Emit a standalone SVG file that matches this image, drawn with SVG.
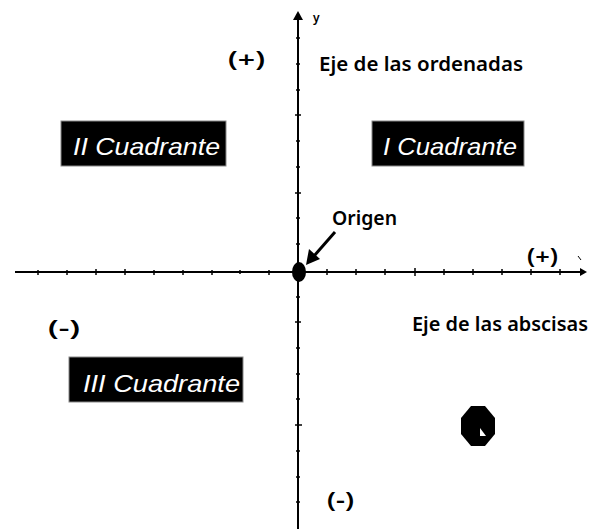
<svg xmlns="http://www.w3.org/2000/svg" width="604" height="529" viewBox="0 0 604 529">
<style>
.axis{stroke:#000;stroke-width:2;fill:none}
.tick{stroke:#000;stroke-width:1.5}
.lbl{font-family:"Noto Sans","Liberation Sans",sans-serif;font-weight:600;fill:#000}
.box{fill:#000;stroke:#888;stroke-width:1}
.qt{font-family:"Liberation Sans Narrow","Liberation Sans",sans-serif;font-style:italic;fill:#fff}
</style>
<rect width="604" height="529" fill="#fff"/>
<g id="connectors">
<line class="axis" x1="15" y1="272" x2="582" y2="272"/>
<path d="M580,268 L587,272 L580,276 Z" fill="#000"/>
<line class="axis" x1="298" y1="529" x2="298" y2="20"/>
<path d="M293,20 L298,11 L303,20 Z" fill="#000"/>
<g class="tick">
<line x1="38" y1="270" x2="38" y2="275"/><line x1="67" y1="270" x2="67" y2="275"/><line x1="96" y1="269" x2="96" y2="275"/><line x1="125" y1="269" x2="125" y2="275"/><line x1="154" y1="270" x2="154" y2="275"/><line x1="183" y1="270" x2="183" y2="275"/><line x1="212" y1="270" x2="212" y2="275"/><line x1="240" y1="270" x2="240" y2="274"/><line x1="269" y1="270" x2="269" y2="275"/>
<line x1="327" y1="269" x2="327" y2="275"/><line x1="356" y1="269" x2="356" y2="275"/><line x1="385" y1="269" x2="385" y2="275"/><line x1="415" y1="268" x2="415" y2="276"/><line x1="444" y1="269" x2="444" y2="275"/><line x1="473" y1="269" x2="473" y2="275"/><line x1="502" y1="269" x2="502" y2="275"/><line x1="531" y1="269" x2="531" y2="275"/><line x1="560" y1="269" x2="560" y2="275"/>
<line x1="296" y1="38" x2="300" y2="38"/><line x1="296" y1="64" x2="300" y2="64"/><line x1="296" y1="90" x2="300" y2="90"/><line x1="295" y1="115" x2="301" y2="115"/><line x1="296" y1="141" x2="300" y2="141"/><line x1="296" y1="167" x2="300" y2="167"/><line x1="295" y1="193" x2="301" y2="193"/><line x1="296" y1="218" x2="300" y2="218"/><line x1="296" y1="244" x2="300" y2="244"/>
<line x1="296" y1="297" x2="300" y2="297"/><line x1="295" y1="322" x2="301" y2="322"/><line x1="296" y1="348" x2="300" y2="348"/><line x1="296" y1="374" x2="300" y2="374"/><line x1="296" y1="399" x2="300" y2="399"/><line x1="295" y1="425" x2="302" y2="425"/><line x1="296" y1="451" x2="300" y2="451"/><line x1="296" y1="477" x2="300" y2="477"/><line x1="296" y1="502" x2="300" y2="502"/>
</g>
<line x1="335" y1="232" x2="314" y2="256" stroke="#000" stroke-width="3"/>
<path d="M306,265 L309,249 L320,259 Z" fill="#000"/>
<line x1="578" y1="256" x2="581" y2="260" stroke="#000" stroke-width="1"/>
</g>
<g id="origin-dot"><ellipse cx="299" cy="272" rx="7" ry="10" fill="#000"/></g>
<g id="y-label"><text class="lbl" x="313" y="22" font-size="12" font-weight="400">y</text></g>
<g id="plus-top"><text class="lbl" x="228" y="67" font-size="22" textLength="37" lengthAdjust="spacingAndGlyphs">(+)</text></g>
<g id="ordenadas"><text class="lbl" x="319" y="71" font-size="20" textLength="204" lengthAdjust="spacingAndGlyphs">Eje de las ordenadas</text></g>
<g id="q2"><rect class="box" x="61" y="121" width="165" height="45"/><text class="qt" x="73" y="155" font-size="24" textLength="147" lengthAdjust="spacingAndGlyphs">II Cuadrante</text></g>
<g id="q1"><rect class="box" x="372" y="121" width="152" height="45"/><text class="qt" x="383" y="155" font-size="24" textLength="134" lengthAdjust="spacingAndGlyphs">I Cuadrante</text></g>
<g id="q3"><rect class="box" x="69" y="357" width="174" height="45"/><text class="qt" x="83" y="392" font-size="24" textLength="157" lengthAdjust="spacingAndGlyphs">III Cuadrante</text></g>
<g id="origen"><text class="lbl" x="332" y="225" font-size="20" textLength="65" lengthAdjust="spacingAndGlyphs">Origen</text></g>
<g id="plus-right"><text class="lbl" x="527" y="264" font-size="22" textLength="31" lengthAdjust="spacingAndGlyphs">(+)</text></g>
<g id="minus-left"><text class="lbl" x="48" y="336" font-size="22" textLength="32" lengthAdjust="spacingAndGlyphs">(-)</text></g>
<g id="abscisas"><text class="lbl" x="412" y="331" font-size="20" textLength="176" lengthAdjust="spacingAndGlyphs">Eje de las abscisas</text></g>
<g id="minus-bottom"><text class="lbl" x="327" y="508" font-size="22" textLength="27" lengthAdjust="spacingAndGlyphs">(-)</text></g>
<g id="octagon"><polygon points="471,406 485,406 495,418 495,434 485,446 471,446 461,434 461,418" fill="#000"/><polygon points="480,428 480,436 486,436" fill="#fff"/></g>
</svg>
